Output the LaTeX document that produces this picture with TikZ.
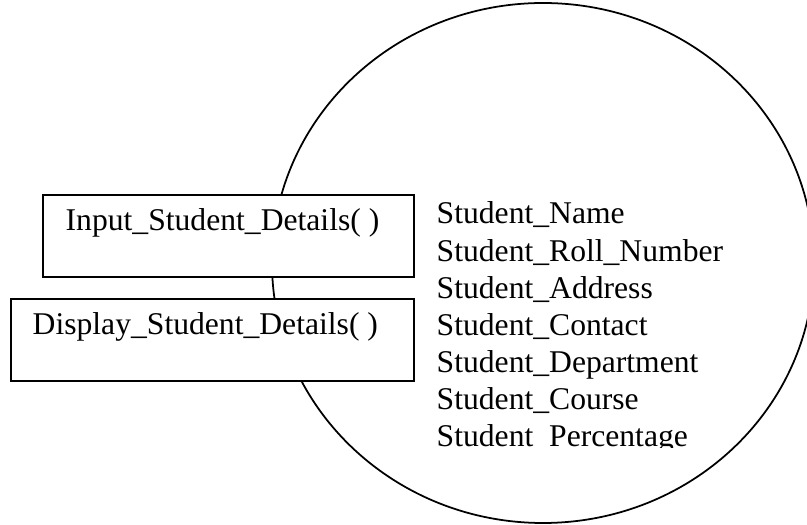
\documentclass[tikz,border=0pt]{standalone}
\usepackage{fontspec}
\setmainfont{Liberation Serif}
\tikzset{fnbox/.style={draw,line width=0.55pt,fill=white,inner sep=0pt,anchor=north west},
    fntext/.style={anchor=base west,inner sep=0pt,font=\fontsize{9}{10}\selectfont}
}

\begin{document}
\begin{tikzpicture}
                \useasboundingbox (0,0) rectangle (8.07,5.25);
                
                % Object boundary
                \draw[line width=0.5pt] (5.43,2.62) ellipse [x radius=2.71, y radius=2.60];
                
                % Methods
                \node[fnbox,minimum width=3.71cm,minimum height=0.82cm] (inbox) at (0.42,3.31) {};
                \node[fntext] (inlbl) at (0.65,2.94) {Input\_Student\_Details( )};
                \node[fnbox,minimum width=4.03cm,minimum height=0.82cm] (dispbox) at (0.10,2.27) {};
                \node[fntext] (displbl) at (0.32,1.90) {Display\_Student\_Details( )};
                
                % Data members
                \foreach \attr [count=\i from 0] in {Name,Roll\_Number,Address,Contact,Department,Course}
                    \node[fntext] (attr\i) at (4.36,3.01-0.371*\i) {Student\_\attr};
                \begin{scope}
                    \clip (4.3,0.775) rectangle (7.5,1.3);
                    \node[fntext] (attr6) at (4.36,3.01-0.371*6) {Student\_Percentage};
                \end{scope}
            \end{tikzpicture}
\end{document}
